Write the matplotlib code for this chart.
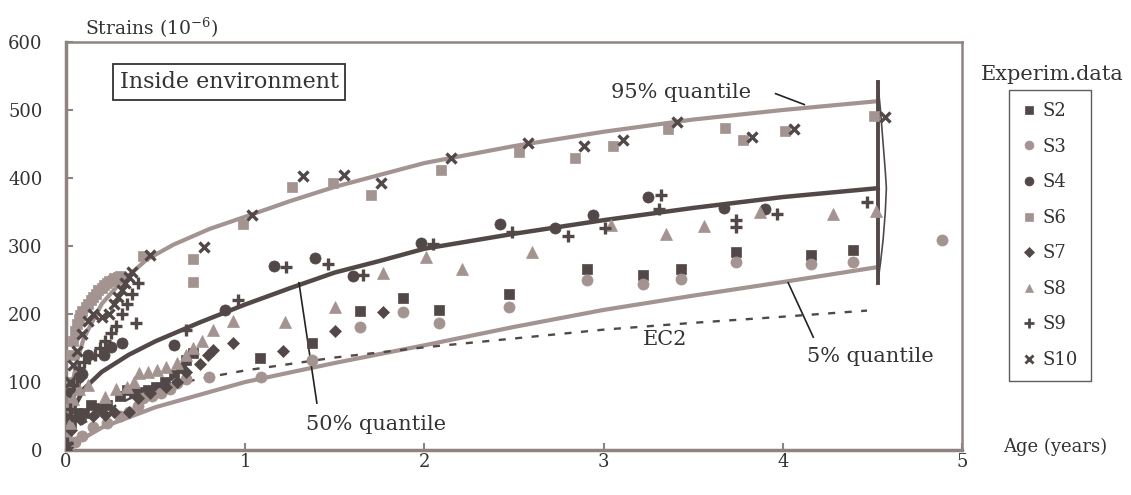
import matplotlib
matplotlib.use("Agg")
import matplotlib.pyplot as plt

# experimental data (age in years, strain in 1e-6)
s2_t = [0.005, 0.03, 0.06, 0.10, 0.14, 0.18, 0.23, 0.30, 0.34, 0.38, 0.42, 0.46, 0.50, 0.55, 0.60, 0.64, 0.67, 0.71,
        1.08, 1.37, 1.64, 1.88, 2.08, 2.47, 2.91, 3.22, 3.43, 3.74, 4.16, 4.39]
s2_v = [5, 40, 55, 54, 66, 62, 66, 80, 88, 84, 86, 88, 92, 100, 110, 120, 132, 142,
        135, 157, 204, 223, 206, 229, 266, 257, 266, 291, 287, 294]

s3_t = [0.01, 0.05, 0.09, 0.15, 0.23, 0.30, 0.35, 0.40, 0.43, 0.48, 0.53, 0.58, 0.62, 0.67, 0.80,
        1.09, 1.37, 1.64, 1.88, 2.08, 2.47, 2.91, 3.22, 3.43, 3.74, 4.16, 4.39, 4.89]
s3_v = [5, 12, 21, 34, 40, 50, 56, 65, 76, 80, 84, 90, 98, 104, 107,
        108, 133, 181, 203, 187, 210, 250, 244, 251, 276, 274, 276, 309]

s4_t = [0.005, 0.01, 0.02, 0.03, 0.05, 0.07, 0.09, 0.12, 0.21, 0.25, 0.31, 0.60, 0.89,
        1.16, 1.39, 1.60, 1.98, 2.42, 2.73, 2.94, 3.25, 3.67, 3.90]
s4_v = [10, 30, 60, 85, 100, 108, 112, 140, 140, 152, 157, 154, 206,
        270, 282, 256, 304, 333, 326, 345, 372, 356, 355]

s6_t = [0.005, 0.01, 0.02, 0.03, 0.04, 0.05, 0.06, 0.07, 0.08, 0.09, 0.11, 0.12, 0.14, 0.15, 0.17, 0.18, 0.20,
        0.21, 0.23, 0.24, 0.26, 0.27, 0.29, 0.30, 0.43, 0.71, 0.71,
        0.99, 1.26, 1.49, 1.70, 2.09, 2.53, 2.84, 3.05, 3.36, 3.68, 3.78, 4.01, 4.51]
s6_v = [20, 60, 100, 140, 160, 175, 185, 192, 198, 205, 210, 215, 220, 225, 230, 235, 238,
        242, 245, 248, 250, 253, 255, 256, 285, 281, 247,
        332, 387, 393, 375, 412, 438, 429, 447, 472, 473, 456, 469, 491]

s7_t = [0.005, 0.03, 0.08, 0.15, 0.22, 0.27, 0.35, 0.40, 0.47, 0.56, 0.62, 0.67, 0.75, 0.79, 0.82, 0.93,
        1.21, 1.50, 1.77]
s7_v = [5, 30, 45, 50, 51, 56, 56, 76, 84, 93, 100, 114, 127, 140, 147, 157,
        145, 175, 203]

s8_t = [0.005, 0.02, 0.04, 0.07, 0.12, 0.22, 0.28, 0.34, 0.38, 0.41, 0.46, 0.51, 0.56, 0.62, 0.67, 0.71, 0.76, 0.82,
        0.93, 1.22, 1.50, 1.77, 2.01, 2.21, 2.60, 3.04, 3.35, 3.56, 3.87, 4.28, 4.52]
s8_v = [15, 40, 75, 90, 95, 78, 90, 93, 100, 113, 115, 118, 122, 128, 140, 150, 160, 176,
        190, 188, 210, 261, 284, 266, 291, 331, 318, 330, 350, 347, 352]

s9_t = [0.005, 0.02, 0.04, 0.07, 0.10, 0.13, 0.16, 0.19, 0.22, 0.25, 0.28, 0.31, 0.34, 0.37, 0.40, 0.39, 0.67, 0.96,
        1.23, 1.46, 1.66, 2.05, 2.49, 2.80, 3.01, 3.32, 3.31, 3.74, 3.74, 3.97, 4.47]
s9_v = [10, 60, 95, 120, 130, 135, 140, 150, 160, 172, 182, 200, 215, 230, 245, 187, 176, 220,
        269, 273, 257, 303, 321, 314, 326, 375, 354, 328, 338, 347, 365]

s10_t = [0.005, 0.01, 0.02, 0.04, 0.06, 0.09, 0.12, 0.15, 0.20, 0.24, 0.27, 0.29, 0.31, 0.33, 0.35, 0.37, 0.47, 0.77,
         1.04, 1.32, 1.55, 1.76, 2.15, 2.58, 2.89, 3.11, 3.41, 3.83, 4.06, 4.57]
s10_v = [5, 50, 100, 125, 145, 170, 190, 200, 195, 200, 215, 225, 235, 245, 255, 262, 287, 298,
         345, 403, 404, 392, 429, 451, 447, 456, 483, 460, 472, 490]

# model curves
q95_t = [0, 0.01, 0.03, 0.06, 0.1, 0.2, 0.3, 0.45, 0.6, 0.8, 1.0, 1.25, 1.5, 2.0, 2.5, 3.0, 3.5, 4.0, 4.53]
q95_v = [0, 40, 90, 130, 165, 215, 245, 280, 302, 325, 343, 366, 387, 422, 447, 468, 486, 500, 513]
q50_t = [0.02, 0.05, 0.1, 0.2, 0.35, 0.5, 0.75, 1.0, 1.25, 1.5, 1.75, 2.0, 2.5, 3.0, 3.5, 4.0, 4.53]
q50_v = [40, 65, 90, 115, 140, 160, 188, 214, 238, 261, 278, 296, 318, 338, 356, 372, 385]
q05_t = [0, 0.05, 0.2, 0.5, 1.0, 1.5, 2.0, 2.5, 3.0, 3.5, 4.0, 4.53]
q05_v = [0, 10, 33, 63, 100, 128, 154, 181, 206, 227, 247, 269]
ec2_t = [0.02, 0.05, 0.1, 0.2, 0.35, 0.5, 0.75, 1.0, 1.5, 2.0, 2.5, 3.0, 3.5, 4.0, 4.47]
ec2_v = [20, 30, 40, 55, 75, 90, 105, 117, 136, 151, 164, 177, 187, 196, 205]

# distribution bracket at end of curves
brk_t = [4.53, 4.53]
brk_v = [541, 246]
dist_t = [4.53, 4.545, 4.56, 4.572, 4.578, 4.572, 4.56, 4.545, 4.53]
dist_v = [541, 500, 450, 410, 385, 350, 310, 275, 246]

dark = "#524847"
light = "#a39491"
axcol = "#8e8381"
txt = "#333333"

plt.rcParams["font.family"] = "DejaVu Serif"
plt.rcParams["mathtext.fontset"] = "dejavuserif"

fig = plt.figure(figsize=(11.31, 4.95), dpi=100)
ax = fig.add_axes([66 / 1131, 1 - 450 / 495, 896 / 1131, 408 / 495])

ax.plot(q95_t, q95_v, color=light, lw=3, zorder=2)
ax.plot(q50_t, q50_v, color=dark, lw=3.2, zorder=2)
ax.plot(q05_t, q05_v, color=light, lw=3, zorder=2)
ax.plot(ec2_t, ec2_v, color=dark, lw=1.7, dashes=(3, 4), zorder=2)
ax.plot(brk_t, brk_v, color=dark, lw=2.8, zorder=2)
ax.plot(dist_t, dist_v, color=dark, lw=1.2, zorder=2)

series = [
    ("S2", s2_t, s2_v, "s", dark, 7.5),
    ("S3", s3_t, s3_v, "o", light, 8),
    ("S4", s4_t, s4_v, "o", dark, 8),
    ("S6", s6_t, s6_v, "s", light, 7.5),
    ("S7", s7_t, s7_v, "D", dark, 6),
    ("S8", s8_t, s8_v, "^", light, 8),
    ("S9", s9_t, s9_v, "+", dark, 8.5),
    ("S10", s10_t, s10_v, "x", dark, 7.5),
]
handles = []
for name, t, v, m, c, ms in series:
    ax.plot(t, v, linestyle="none", marker=m, color=c, markersize=ms,
            markeredgewidth=2.4 if m in "+x" else 0.5, zorder=3)
    h, = ax.plot([], [], linestyle="none", marker=m, color=c, markersize=ms * 0.8,
                 markeredgewidth=2.0 if m in "+x" else 0.5, label=name)
    handles.append(h)

ax.set_xlim(0, 5)
ax.set_ylim(0, 600)
ax.set_xticks([0, 1, 2, 3, 4, 5])
ax.set_yticks(range(0, 601, 100))
ax.tick_params(direction="in", length=5, width=1.5, color=axcol, labelsize=13, labelcolor=txt)
ax.tick_params(axis="y", pad=17)
ax.tick_params(axis="x", pad=2)
for side in ["left", "bottom"]:
    ax.spines[side].set_linewidth(2.5)
    ax.spines[side].set_color(axcol)
for side in ["top", "right"]:
    ax.spines[side].set_linewidth(1.8)
    ax.spines[side].set_color(axcol)

fig.text(85 / 1131, 1 - 28 / 495, r"Strains (10$^{-6}$)", fontsize=13.5, color=txt, va="center", ha="left")
fig.text(1055 / 1131, 1 - 447 / 495, "Age (years)", fontsize=13, color=txt, va="center", ha="center")

ax.text(0.182, 0.902, "Inside environment", transform=ax.transAxes, fontsize=16, color=txt,
        ha="center", va="center",
        bbox=dict(boxstyle="square,pad=0.3", fc="white", ec="#333333", lw=1.3))

ax.text(3.43, 526, "95% quantile", fontsize=15, color=txt, ha="center", va="center")
ax.plot([3.96, 4.12], [524, 508], color="#222222", lw=1.2)
ax.text(1.73, 37, "50% quantile", fontsize=15, color=txt, ha="center", va="center")
ax.plot([1.30, 1.40], [246, 69], color="#222222", lw=1.2)
ax.text(4.49, 137, "5% quantile", fontsize=15, color=txt, ha="center", va="center")
ax.plot([4.03, 4.17], [246, 166], color="#222222", lw=1.2)
ax.text(3.34, 162, "EC2", fontsize=15, color=txt, ha="center", va="center")

fig.text(1052 / 1131, 1 - 75 / 495, "Experim.data", fontsize=15, color=txt, ha="center", va="center")
leg = fig.legend(handles=handles, loc="upper left", bbox_to_anchor=(1009 / 1131, 1 - 90 / 495),
                 borderaxespad=0, frameon=True, fancybox=False, fontsize=13, labelspacing=0.97,
                 handlelength=0.8, handletextpad=0.4, borderpad=0.68, edgecolor="#333333", labelcolor=txt)
leg.get_frame().set_linewidth(1.0)

fig.savefig("out.png", dpi=100)
